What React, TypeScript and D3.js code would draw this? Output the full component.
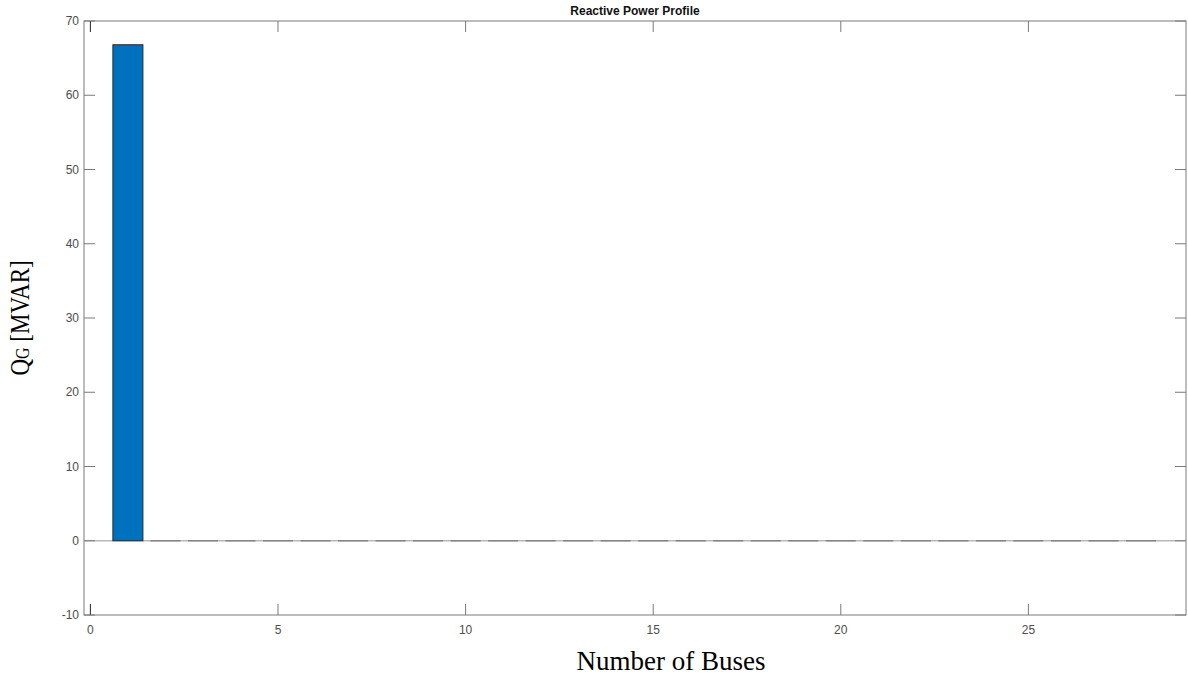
import React, { useEffect, useRef } from 'react';
import * as d3 from 'd3';

const buses = [1, 2, 3, 4, 5, 6, 7, 8, 9, 10, 11, 12, 13, 14, 15, 16, 17, 18, 19, 20, 21, 22, 23, 24, 25, 26, 27, 28];
const qg = [66.8, 0, 0, 0, 0, 0, 0, 0, 0, 0, 0, 0, 0, 0, 0, 0, 0, 0, 0, 0, 0, 0, 0, 0, 0, 0, 0, 0];
const xTicks = [0, 5, 10, 15, 20, 25];
const yTicks = [-10, 0, 10, 20, 30, 40, 50, 60, 70];

const App = () => {
  const svgRef = useRef<SVGSVGElement>(null);

  useEffect(() => {
    const width = 1188;
    const height = 677;
    const box = { left: 84, right: 1186, top: 21, bottom: 615 };

    const svg = d3.select(svgRef.current);
    svg.selectAll('*').remove();

    const x = d3.scaleLinear().domain([-0.17, 29.2]).range([box.left, box.right]);
    const y = d3.scaleLinear().domain([-10, 70]).range([box.bottom, box.top]);
    const barW = x(0.8) - x(0);

    // axes box
    svg.append('rect')
      .attr('x', box.left).attr('y', box.top)
      .attr('width', box.right - box.left).attr('height', box.bottom - box.top)
      .attr('fill', 'white').attr('stroke', '#7a7a7a').attr('stroke-width', 1);

    // baseline
    svg.append('line')
      .attr('x1', box.left).attr('x2', box.right)
      .attr('y1', y(0)).attr('y2', y(0))
      .attr('stroke', '#b8b8b8').attr('stroke-width', 1.5);

    // non-zero bars
    svg.append('g')
      .selectAll('rect')
      .data(buses.filter((d, i) => qg[i] !== 0))
      .join('rect')
      .attr('x', (d) => x(d) - barW / 2)
      .attr('y', (d) => y(Math.max(0, qg[d - 1])))
      .attr('width', barW)
      .attr('height', (d) => Math.abs(y(qg[d - 1]) - y(0)))
      .attr('fill', '#0072BD')
      .attr('stroke', '#1e2a33')
      .attr('stroke-width', 1);

    // zero-height bars show only their edge on the baseline
    svg.append('g')
      .selectAll('line')
      .data(buses.filter((d, i) => qg[i] === 0))
      .join('line')
      .attr('x1', (d) => x(d) - barW / 2)
      .attr('x2', (d) => x(d) + barW / 2)
      .attr('y1', y(0)).attr('y2', y(0))
      .attr('stroke', '#858585')
      .attr('stroke-width', 1.5);

    // x ticks (bottom and top, inward)
    const xg = svg.append('g');
    xTicks.forEach((t) => {
      xg.append('line').attr('x1', x(t)).attr('x2', x(t)).attr('y1', box.bottom).attr('y2', box.bottom - 11)
        .attr('stroke', t === 0 ? '#222' : '#7a7a7a');
      xg.append('line').attr('x1', x(t)).attr('x2', x(t)).attr('y1', box.top).attr('y2', box.top + 11)
        .attr('stroke', t === 0 ? '#222' : '#7a7a7a');
      xg.append('text').attr('x', x(t)).attr('y', 634)
        .attr('text-anchor', 'middle')
        .attr('font-family', 'Liberation Sans, Arial, sans-serif').attr('font-size', 12)
        .attr('fill', '#4d4d4d').text(t);
    });

    // y ticks (left and right, inward)
    const yg = svg.append('g');
    yTicks.forEach((t) => {
      yg.append('line').attr('x1', box.left).attr('x2', box.left + 11).attr('y1', y(t)).attr('y2', y(t))
        .attr('stroke', '#7a7a7a');
      yg.append('line').attr('x1', box.right).attr('x2', box.right - 11).attr('y1', y(t)).attr('y2', y(t))
        .attr('stroke', '#7a7a7a');
      yg.append('text').attr('x', 79).attr('y', y(t) + 4)
        .attr('text-anchor', 'end')
        .attr('font-family', 'Liberation Sans, Arial, sans-serif').attr('font-size', 12)
        .attr('fill', '#4d4d4d').text(t);
    });

    // title
    svg.append('text')
      .attr('x', (box.left + box.right) / 2).attr('y', 15)
      .attr('text-anchor', 'middle')
      .attr('font-family', 'Liberation Sans, Arial, sans-serif').attr('font-size', 12)
      .attr('font-weight', 'bold').attr('fill', '#111')
      .text('Reactive Power Profile');

    // x label
    svg.append('text')
      .attr('x', 671).attr('y', 670)
      .attr('text-anchor', 'middle')
      .attr('font-family', 'Liberation Serif, Times New Roman, serif').attr('font-size', 27)
      .attr('fill', '#000')
      .text('Number of Buses');

    // y label with subscript
    const yl = svg.append('text')
      .attr('transform', 'translate(29,318) rotate(-90) scale(1,1.2)')
      .attr('text-anchor', 'middle')
      .attr('font-family', 'Liberation Serif, Times New Roman, serif').attr('font-size', 23)
      .attr('fill', '#000');
    yl.append('tspan').text('Q');
    yl.append('tspan').attr('font-size', 16).text('G');
    yl.append('tspan').text(' [MVAR]');

    svg.attr('width', width).attr('height', height);
  }, []);

  return (
    <svg ref={svgRef} style={{ position: 'absolute', left: 0, top: 0, display: 'block', background: 'white' }}></svg>
  );
};

export default App;
